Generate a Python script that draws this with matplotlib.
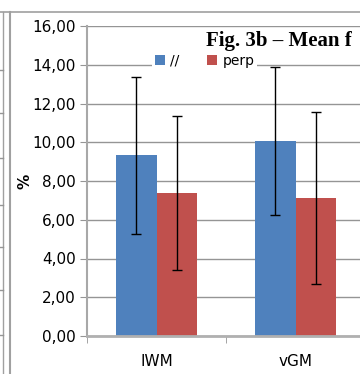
import numpy as np
import matplotlib.pyplot as plt
from matplotlib.lines import Line2D

categories = ['IWM', 'vGM']
par_mean = [9.34, 10.06]
perp_mean = [7.40, 7.12]
par_err = [4.05, 3.81]
perp_err = [3.98, 4.45]
yticks = [0, 2, 4, 6, 8, 10, 12, 14, 16]

blue = '#4F81BD'
red = '#C0504D'
W, H = 360, 374

fig = plt.figure(figsize=(W / 100, H / 100), dpi=100)
ax = fig.add_axes([87 / W, 1 - 336 / H, 278 / W, 310 / H])

x = np.arange(len(categories))
bw = 0.288
ax.bar(x - bw / 2, par_mean, bw, color=blue, label='//', zorder=2)
ax.bar(x + bw / 2, perp_mean, bw, color=red, label='perp', zorder=2)
ax.errorbar(x - bw / 2, par_mean, yerr=par_err, fmt='none', ecolor='black',
            elinewidth=1.0, capsize=3.5, capthick=1.0, zorder=3)
ax.errorbar(x + bw / 2, perp_mean, yerr=perp_err, fmt='none', ecolor='black',
            elinewidth=1.0, capsize=3.5, capthick=1.0, zorder=3)

ax.set_xlim(-0.5, 1.5)
ax.set_ylim(0, 16)
ax.set_yticks(yticks)
ax.set_yticklabels([f'{v:.2f}'.replace('.', ',') for v in yticks], fontsize=11)
ax.yaxis.grid(True, color='#959595', linewidth=1.0, zorder=0)
ax.set_axisbelow(True)
ax.set_xticks(x)
ax.set_xticklabels(categories, fontsize=11)
ax.set_xticks([-0.5, 0.5, 1.5], minor=True)
ax.tick_params(axis='x', which='major', length=0, pad=13)
ax.tick_params(axis='x', which='minor', length=5, color='#959595')
ax.tick_params(axis='y', length=5, color='#959595', pad=3)
for s in ['top', 'right']:
    ax.spines[s].set_visible(False)
ax.spines['left'].set_color('#a8a8a8')
ax.spines['left'].set_linewidth(1.5)
ax.spines['bottom'].set_color('#b0b0b0')
ax.spines['bottom'].set_linewidth(2)

fig.text(25 / W, 1 - 181 / H, '%', rotation=90, fontsize=11, fontweight='bold',
         ha='center', va='center')

fig.text(206 / W, 1 - 46 / H, 'Fig. 3b \u2013 Mean f', family='Liberation Serif',
         fontweight='bold', fontsize=15, ha='left', va='baseline')

leg = ax.legend(loc='center left', bbox_to_anchor=(152 / W, 1 - 61 / H),
                bbox_transform=fig.transFigure, ncol=2, fontsize=10,
                frameon=True, fancybox=False, edgecolor='none', facecolor='white',
                framealpha=1, handlelength=0.7, handleheight=0.7,
                handletextpad=0.4, columnspacing=2.0, borderpad=0.2,
                borderaxespad=0)

# frame of the chart box and the edge of the neighbouring chart
def hline(y, x0, x1, c='#a0a0a0', lw=1.0):
    fig.add_artist(Line2D([x0 / W, x1 / W], [1 - y / H, 1 - y / H], color=c,
                          linewidth=lw, transform=fig.transFigure))

def vline(xp, y0, y1, c='#a0a0a0', lw=1.0):
    fig.add_artist(Line2D([xp / W, xp / W], [1 - y0 / H, 1 - y1 / H], color=c,
                          linewidth=lw, transform=fig.transFigure))

hline(12, 0, W, lw=1.2)
vline(3, 12, H)
vline(9.5, 12, H, lw=1.5)
for yy in [70, 113, 158, 205, 247, 290, 335]:
    hline(yy, 0, 3, c='#959595')

fig.savefig('out.png', dpi=100)
